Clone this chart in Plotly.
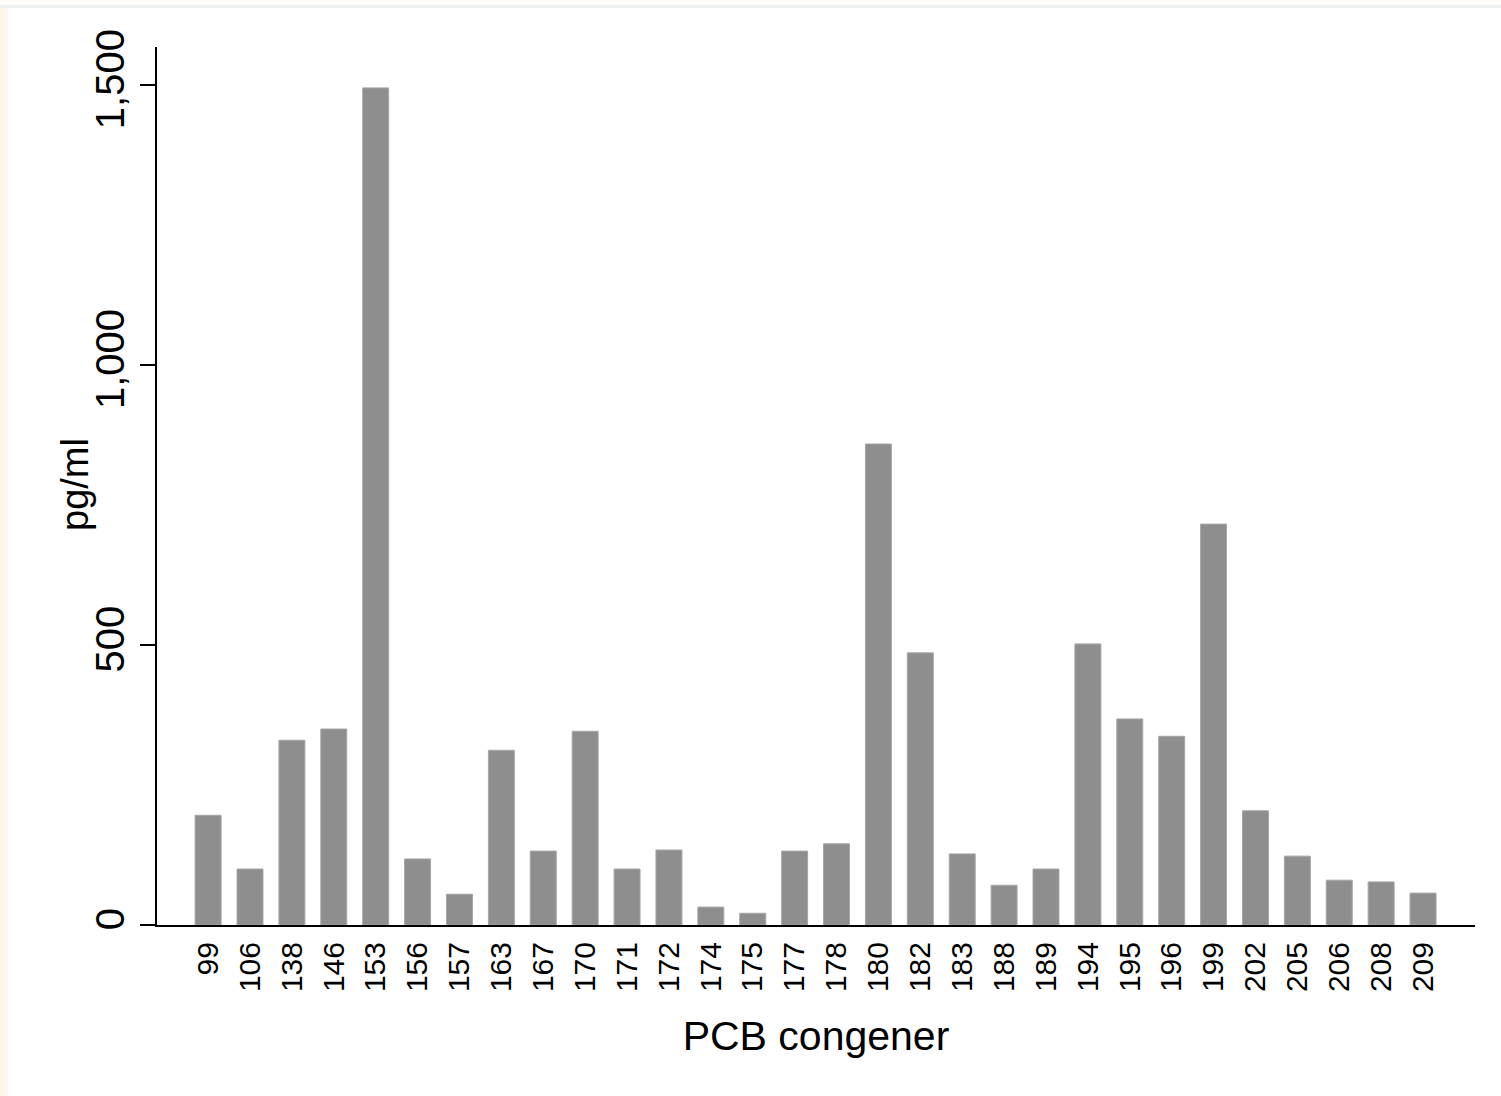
import plotly.graph_objects as go

congeners = ["99", "106", "138", "146", "153", "156", "157", "163", "167", "170",
             "171", "172", "174", "175", "177", "178", "180", "182", "183", "188",
             "189", "194", "195", "196", "199", "202", "205", "206", "208", "209"]
values = [196, 100, 330, 350, 1495, 118, 55, 312, 132, 346,
          100, 134, 32, 21, 132, 145, 859, 486, 127, 71,
          100, 502, 368, 337, 716, 204, 123, 80, 77, 57]
y_ticks = [0, 500, 1000, 1500]
y_tick_text = ["0", "500", "1,000", "1,500"]

FONT = "Arial, Liberation Sans, sans-serif"

fig = go.Figure(go.Bar(
    x=list(range(len(congeners))),
    y=values,
    marker=dict(color="#8e8e8e", line=dict(color="#a6a6a6", width=1)),
    width=0.62,
))

L, R, T, B = 157, 26, 47, 171
W, H = 1501, 1096
pw, ph = W - L - R, H - T - B

fig.update_layout(
    width=W, height=H,
    margin=dict(l=L, r=R, t=T, b=B, pad=0),
    paper_bgcolor="white", plot_bgcolor="white",
    showlegend=False,
    font=dict(family=FONT, color="black"),
    xaxis=dict(
        range=[-1.22, 30.24],
        tickmode="array",
        tickvals=list(range(len(congeners))),
        ticktext=congeners,
        tickangle=-90,
        tickfont=dict(size=30, family=FONT),
        ticks="",
        showline=True, linecolor="black", linewidth=2,
        showgrid=False, zeroline=False,
        ticklabelstandoff=3,
        title=dict(text="PCB congener", font=dict(size=41, family=FONT), standoff=30),
    ),
    yaxis=dict(
        range=[0, 1568],
        tickmode="array",
        tickvals=y_ticks,
        ticktext=y_tick_text,
        tickangle=-90,
        tickfont=dict(size=40, family=FONT),
        ticks="outside", ticklen=15, tickwidth=2, tickcolor="black",
        showline=True, linecolor="black", linewidth=2,
        showgrid=False, zeroline=False,
        ticklabelstandoff=0,
    ),
    annotations=[
        dict(text="pg/ml", xref="paper", yref="paper",
             x=(75 - L) / pw, y=(H - B - 485) / ph,
             xanchor="center", yanchor="middle", textangle=-90,
             showarrow=False, font=dict(size=38, family=FONT, color="black")),
    ],
    shapes=[
        dict(type="rect", xref="paper", yref="paper",
             x0=(0 - L) / pw, x1=(8 - L) / pw, y0=-B / ph, y1=(H - T) / ph,
             fillcolor="#fef6e6", line=dict(width=0), layer="below"),
        dict(type="rect", xref="paper", yref="paper",
             x0=-L / pw, x1=(W - L) / pw, y0=(H - B - 8) / ph, y1=(H - B - 5) / ph,
             fillcolor="#eef2f2", line=dict(width=0), layer="below"),
        dict(type="rect", xref="paper", yref="paper",
             x0=-L / pw, x1=(W - L) / pw, y0=(H - B - 5) / ph, y1=(H - B) / ph,
             fillcolor="#fffdf8", line=dict(width=0), layer="below"),
    ],
)

fig.write_html("out.html")
